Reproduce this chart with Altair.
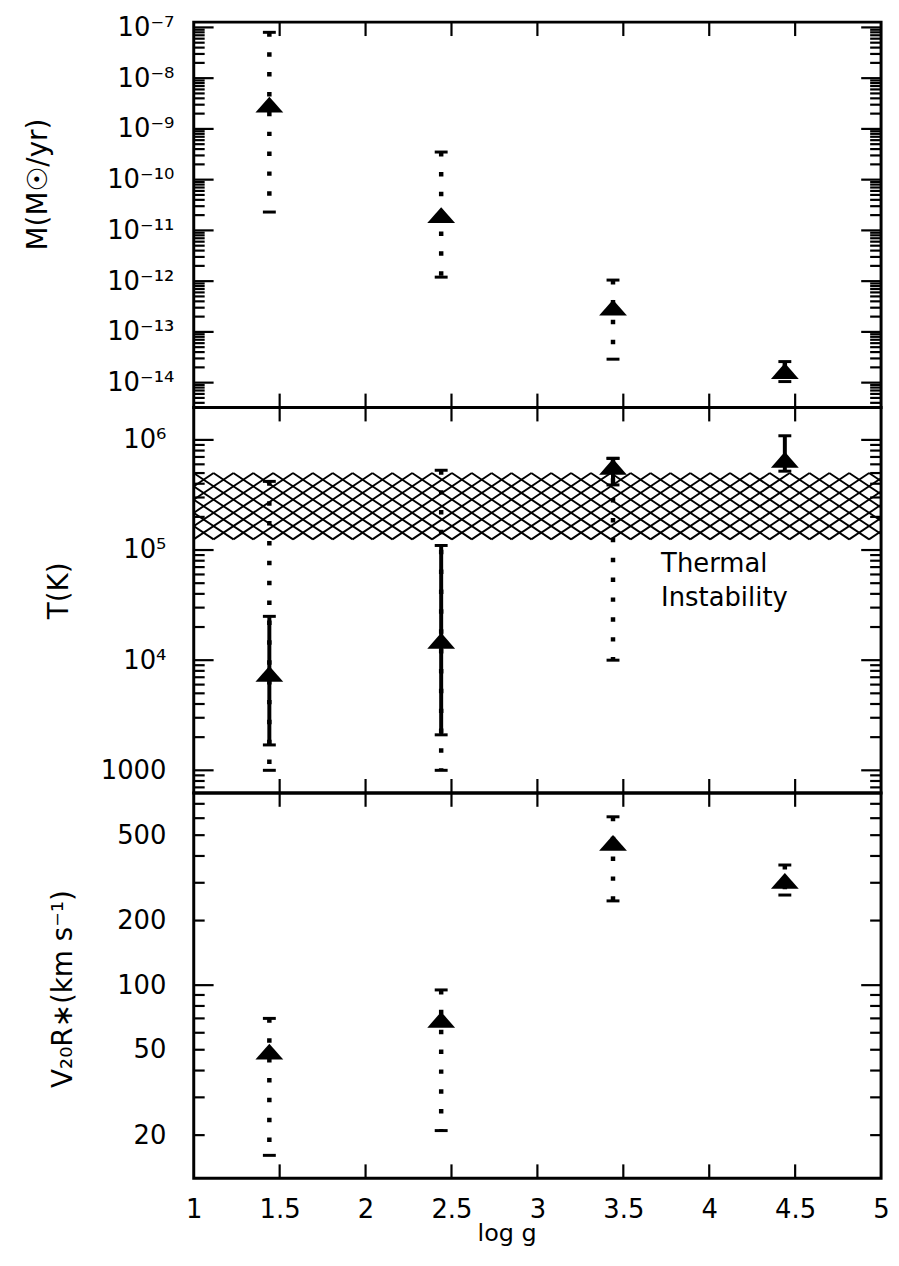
import numpy as np
import pandas as pd
import altair as alt

# ---------------- data ----------------
logg = [1.44, 2.44, 3.44, 4.44]

# mass-loss rate (Msun/yr): value, lower end, upper end of dotted bar
mdot = [3.0e-9, 2.0e-11, 3.0e-13, 1.7e-14]
mdot_lo = [2.3e-11, 1.2e-12, 2.9e-14, 1.05e-14]
mdot_hi = [8.0e-8, 3.5e-10, 1.05e-12, 2.6e-14]

# temperature (K): value, solid bar, dotted bar
temp = [7.5e3, 1.5e4, 5.7e5, 6.6e5]
temp_lo = [1.7e3, 2.1e3, 3.9e5, 5.2e5]
temp_hi = [2.5e4, 1.1e5, 6.8e5, 1.09e6]
temp_dot_lo = [1.0e3, 1.0e3, 1.0e4, None]
temp_dot_hi = [4.2e5, 5.3e5, 6.8e5, None]

# velocity at 20 R* (km/s)
vel = [49, 69, 460, 306]
vel_lo = [16.1, 21, 247, 263]
vel_hi = [70, 95, 609, 363]

# thermal instability band (K)
band = [1.25e5, 5.0e5]
band_text = ["Thermal", "Instability"]
band_text_x = [3.72, 3.72]
band_text_y = [6.3e4, 3.1e4]

x_ticks = [1.5, 2, 2.5, 3, 3.5, 4, 4.5]
x_label_vals = [1, 1.5, 2, 2.5, 3, 3.5, 4, 4.5, 5]
x_labels = ["1", "1.5", "2", "2.5", "3", "3.5", "4", "4.5", "5"]

mdot_major = [1e-14, 1e-13, 1e-12, 1e-11, 1e-10, 1e-9, 1e-8, 1e-7]
mdot_labels = ["10⁻¹⁴", "10⁻¹³", "10⁻¹²", "10⁻¹¹", "10⁻¹⁰", "10⁻⁹", "10⁻⁸", "10⁻⁷"]
temp_major = [1e3, 1e4, 1e5, 1e6]
temp_labels = ["1000", "10⁴", "10⁵", "10⁶"]
vel_major = [100]
vel_label_vals = [20, 50, 100, 200, 500]
vel_labels = ["20", "50", "100", "200", "500"]

# ---------------- layout ----------------
W = 692
H = 388
FONT = "DejaVu Sans"
XDOM = [1, 5]
MDOM = [10 ** -14.49, 10 ** -6.896]
TDOM = [10 ** 2.795, 10 ** 6.294]
VDOM = [10 ** 1.10, 10 ** 2.896]
MAJ_LEN = 20
MIN_LEN = 11
X_LEN = 14


def log_ticks(dom):
    lo, hi = int(np.floor(np.log10(dom[0]))), int(np.ceil(np.log10(dom[1])))
    out = []
    for e in range(lo, hi + 1):
        for k in range(1, 10):
            v = float(f"{k}e{e}")
            if dom[0] <= v <= dom[1]:
                out.append(v)
    return out


def label_expr(vals, labels):
    parts = [f"abs(datum.value / {v!r} - 1) < 1e-6 ? '{l}'" for v, l in zip(vals, labels)]
    return " : ".join(parts) + " : ''"


XSCALE = alt.Scale(domain=XDOM, nice=False, zero=False)

DOT = dict(color="black", strokeWidth=4.5, strokeDash=[4.5, 15.5], strokeCap="butt")
SOLID = dict(color="black", strokeWidth=4)
CAP = dict(color="black", orient="horizontal", size=13, thickness=3, opacity=1)
TRI = dict(shape="M-1,0.57L1,0.57L0,-0.57Z", filled=True, size=784,
           color="black", opacity=1, strokeWidth=0)
TICK = dict(color="black", strokeWidth=2.2)


def caps(xs, los, his):
    rows = []
    for x, lo, hi in zip(xs, los, his):
        if lo is not None:
            rows.append({"logg": x, "v": lo})
        if hi is not None:
            rows.append({"logg": x, "v": hi})
    return pd.DataFrame(rows)


def bars(xs, los, his):
    rows = [{"logg": x, "lo": lo, "hi": hi} for x, lo, hi in zip(xs, los, his)
            if lo is not None and hi is not None]
    return pd.DataFrame(rows)


def build_panel(dom, majors, label_vals, labels, title, tx, ty, pad,
                pts, dotted, solid, capdf, show_x, extra=None):
    ysc = alt.Scale(type="log", domain=dom, nice=False)
    yaxis = alt.Axis(orient="left", values=label_vals, grid=False, domain=False,
                     ticks=False, labelPadding=pad,
                     labelExpr=label_expr(label_vals, labels),
                     title=title, titleX=tx, titleY=ty, titleAngle=270,
                     titleAlign="center", titleBaseline="middle")
    if show_x:
        xaxis = alt.Axis(orient="bottom", values=x_label_vals, grid=False, domain=False,
                         ticks=False, labelPadding=18,
                         labelExpr=label_expr(x_label_vals, x_labels),
                         title="log  g", titleX=315, titleY=56, titleFontSize=24,
                         titleAlign="center", titleBaseline="middle")
    else:
        xaxis = None

    def X(f):
        return alt.X(f, scale=XSCALE, axis=xaxis)

    def Y(f):
        return alt.Y(f, scale=ysc, axis=yaxis)

    layers = [alt.Chart(dotted).mark_rule(**DOT).encode(
        x=X("logg:Q"), y=Y("hi:Q"), y2="lo:Q")]

    if extra is not None:
        layers.extend(extra(X, Y))

    # inward ticks on all four sides (positions come from the scales)
    vals = log_ticks(dom)
    is_major = [any(abs(v / m - 1) < 1e-6 for m in majors) for v in vals]
    major = pd.DataFrame({"t": [v for v, m in zip(vals, is_major) if m]})
    minor = pd.DataFrame({"t": [v for v, m in zip(vals, is_major) if not m]})
    for df, ln in ((major, MAJ_LEN), (minor, MIN_LEN)):
        layers.append(alt.Chart(df).mark_rule(**TICK).encode(
            x=alt.value(0), x2=alt.value(ln), y=Y("t:Q")))
        layers.append(alt.Chart(df).mark_rule(**TICK).encode(
            x=alt.value(W - ln), x2=alt.value(W), y=Y("t:Q")))
    xdf = pd.DataFrame({"t": x_ticks})
    layers.append(alt.Chart(xdf).mark_rule(**TICK).encode(
        x=X("t:Q"), y=alt.value(0), y2=alt.value(X_LEN)))
    layers.append(alt.Chart(xdf).mark_rule(**TICK).encode(
        x=X("t:Q"), y=alt.value(H - X_LEN), y2=alt.value(H)))

    if solid is not None:
        layers.append(alt.Chart(solid).mark_rule(**SOLID).encode(
            x=X("logg:Q"), y=Y("hi:Q"), y2="lo:Q"))
    layers.append(alt.Chart(capdf).mark_tick(**CAP).encode(
        x=X("logg:Q"), y=Y("v:Q")))
    layers.append(alt.Chart(pts).mark_point(**TRI).encode(
        x=X("logg:Q"), y=Y("v:Q")))
    return alt.layer(*layers).properties(width=W, height=H)


# ---------- panel 1: mass-loss rate ----------
p1 = build_panel(
    MDOM, mdot_major, mdot_major, mdot_labels, "M(M☉/yr)", -156, 163, 20,
    pd.DataFrame({"logg": logg, "v": mdot}),
    bars(logg, mdot_lo, mdot_hi), None, caps(logg, mdot_lo, mdot_hi), False)


# ---------- panel 2: temperature ----------
def temp_extra(X, Y):
    # cross-hatching of the thermal-instability band (decoration only)
    band_h_px = H * (np.log10(band[1]) - np.log10(band[0])) / (np.log10(TDOM[1]) - np.log10(TDOM[0]))
    xper = (XDOM[1] - XDOM[0]) / W
    run = band_h_px * 1.5 * xper
    step = 20 * xper
    starts = np.arange(XDOM[0] - run, XDOM[1] + step, step)
    rows = []
    for s in starts:
        rows.append({"x0": s, "x1": s + run, "y0": band[0], "y1": band[1]})
        rows.append({"x0": s + run, "x1": s, "y0": band[0], "y1": band[1]})
    hatch = pd.DataFrame(rows)
    h = alt.Chart(hatch).mark_rule(color="black", strokeWidth=1.9, clip=True).encode(
        x=X("x0:Q"), x2="x1:Q", y=Y("y0:Q"), y2="y1:Q")
    txt = alt.Chart(pd.DataFrame({"x": band_text_x, "y": band_text_y, "t": band_text})).mark_text(
        align="left", baseline="alphabetic", font=FONT, fontSize=26, color="black").encode(
        x=X("x:Q"), y=Y("y:Q"), text="t:N")
    return [h, txt]


p2 = build_panel(
    TDOM, temp_major, temp_major, temp_labels, "T(K)", -135, 184, 28,
    pd.DataFrame({"logg": logg, "v": temp}),
    bars(logg, temp_dot_lo, temp_dot_hi), bars(logg, temp_lo, temp_hi),
    pd.concat([caps(logg, temp_lo, temp_hi), caps(logg, temp_dot_lo, temp_dot_hi)]),
    False, extra=temp_extra)

# ---------- panel 3: velocity ----------
p3 = build_panel(
    VDOM, vel_major, vel_label_vals, vel_labels, "V₂₀R∗(km s⁻¹)", -131, 197, 28,
    pd.DataFrame({"logg": logg, "v": vel}),
    bars(logg, vel_lo, vel_hi), None, caps(logg, vel_lo, vel_hi), True)

chart = alt.vconcat(p1, p2, p3, spacing=0, bounds="flush").properties(
    padding={"left": 15, "top": 0, "right": 0, "bottom": 0}
).configure_view(
    stroke="black", strokeWidth=3
).configure_axis(
    labelColor="black", titleColor="black",
    labelFont=FONT, labelFontSize=26, titleFont=FONT, titleFontSize=28,
    titleFontWeight="normal", labelFlush=False, labelOverlap=False
)

chart.save("out.html", embed_options={"renderer": "svg", "actions": False})
